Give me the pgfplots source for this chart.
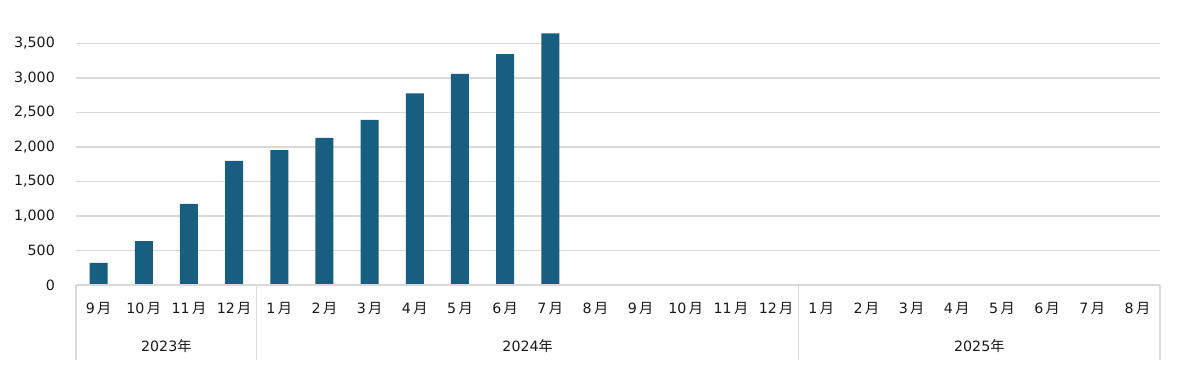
\documentclass[border=0pt]{standalone}
\usepackage{pgfplots}
\pgfplotsset{compat=1.18}
\usepackage{fontspec}
\setmainfont{DejaVu Sans}
\newfontfamily\cjk{Noto Sans CJK JP}
\definecolor{barc}{RGB}{23,94,128}
\definecolor{gridc}{RGB}{217,217,217}
\newcommand{\M}[1]{#1\,{\cjk 月}}
\newcommand{\fs}{\fontsize{14.2}{16}\selectfont}
\begin{document}
\begin{tikzpicture}
\path[use as bounding box] (0,0) rectangle (1193pt,388pt);
\begin{axis}[
  at={(76pt,103pt)}, anchor=south west,
  scale only axis, width=1084pt, height=276.1pt,
  xmin=-0.5, xmax=23.5, ymin=0, ymax=4000,
  clip=false,
  axis line style={draw=none},
  major tick length=0pt,
  ymajorgrids, grid style={gridc, line width=1.4pt},
  ytick={0,500,...,3500},
  scaled y ticks=false,
  /pgf/number format/1000 sep={,},
  /pgf/number format/assume math mode=true,
  yticklabel style={anchor=east, inner sep=0pt, xshift=-21pt, font=\fs, text=black!90},
  xtick={0,...,23},
  xticklabels={\M{9},\M{10},\M{11},\M{12},\M{1},\M{2},\M{3},\M{4},\M{5},\M{6},\M{7},\M{8},\M{9},\M{10},\M{11},\M{12},\M{1},\M{2},\M{3},\M{4},\M{5},\M{6},\M{7},\M{8}},
  xticklabel style={anchor=center, inner sep=0pt, yshift=-23pt, font=\fs, text=black!90},
]
\addplot[ybar, fill=barc, draw=none, bar width=18pt] coordinates {
(0,322)(1,636)(2,1176)(3,1798)(4,1953)(5,2131)(6,2391)(7,2777)(8,3057)(9,3346)(10,3645)};
\draw[gridc, line width=1.4pt] (axis cs:-0.5,0) -- (axis cs:23.5,0);
\pgfplotsinvokeforeach{-0.5,3.5,15.5,23.5}{
  \draw[gridc, line width=1.4pt] (axis cs:#1,0) -- ++(0pt,-75pt);
}
\path[font=\fs, text=black!90]
  (axis cs:1.5,0) node[yshift=-61pt] {2023{\cjk 年}}
  (axis cs:9.5,0) node[yshift=-61pt] {2024{\cjk 年}}
  (axis cs:19.5,0) node[yshift=-61pt] {2025{\cjk 年}};
\end{axis}
\end{tikzpicture}
\end{document}
